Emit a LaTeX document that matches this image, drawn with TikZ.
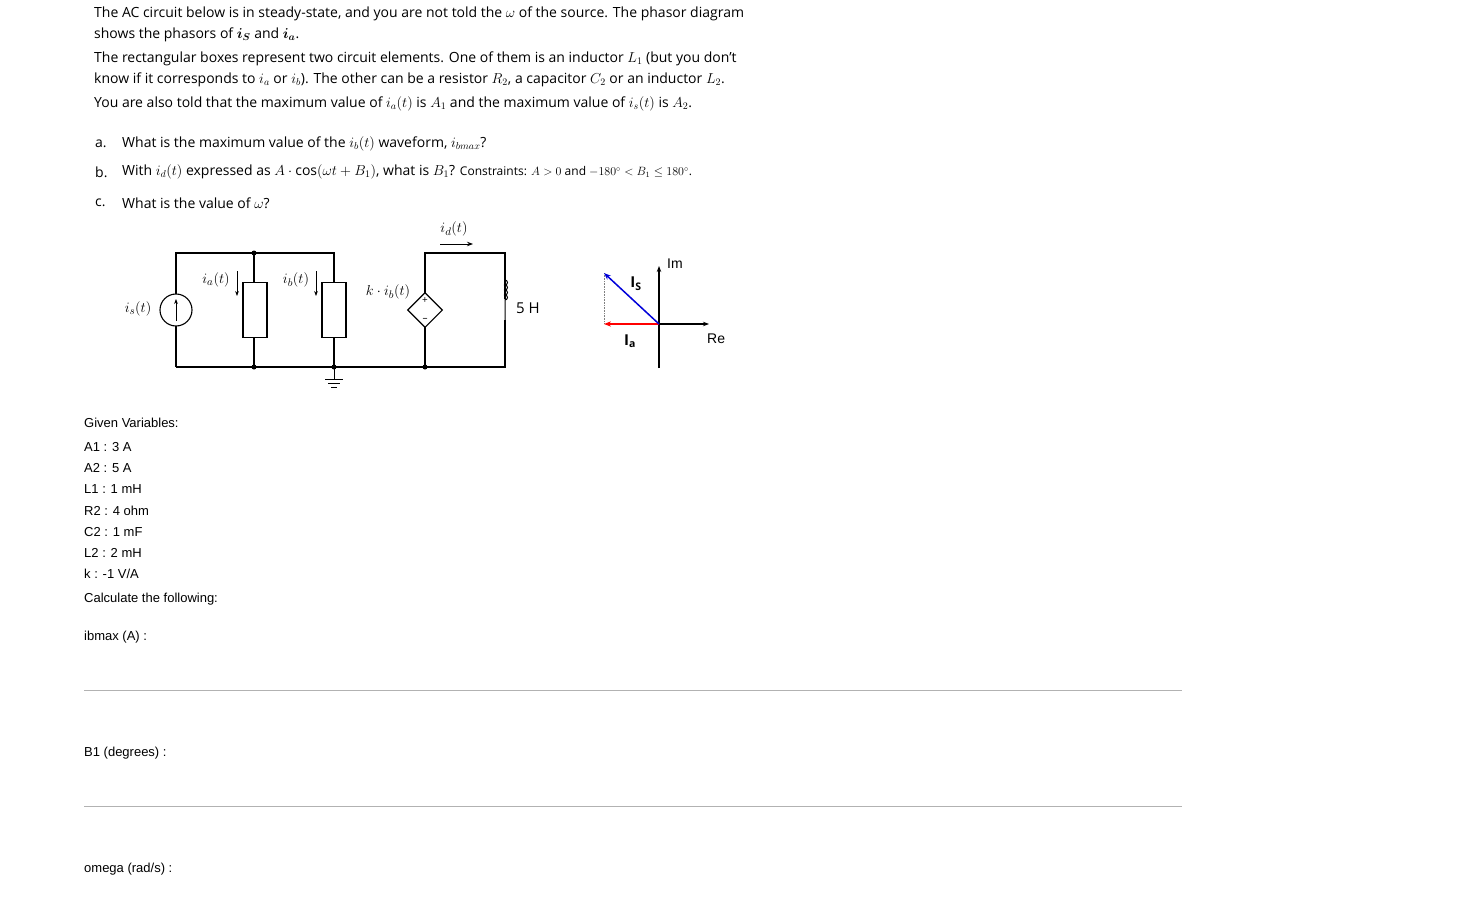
\documentclass[tikz,border=0pt]{standalone}
\usepackage{fontspec}
\usepackage{amsmath,bm}
\setmainfont{Open Sans}
\newfontfamily\arialf{Liberation Sans}
\usetikzlibrary{arrows.meta,shapes.geometric}
\begin{document}
\begin{tikzpicture}[x=1pt,y=-1pt,
  txt/.style={anchor=west,inner sep=0pt,font=\fontsize{14}{16}\selectfont},
  gv/.style={anchor=west,inner sep=0pt,font=\arialf\fontsize{13}{15}\selectfont},
  ckl/.style={inner sep=0pt,font=\fontsize{15}{17}\selectfont},
  wire/.style={line width=1.1pt},
  dot/.style={circle,fill,inner sep=0pt,minimum size=5pt},
  elem/.style={draw,line width=1.1pt,fill=white,minimum width=24pt,minimum height=55pt,inner sep=0pt},
  ax/.style={line width=1.3pt,-{Stealth[length=6pt]}},
  sep/.style={draw=gray!60,line width=0.6pt}]
\useasboundingbox (0,0) rectangle (1470,902);
% text
\node[txt] (t1) at (94,14) {The AC circuit below is in steady-state, and you are not told the $\omega$ of the source. The phasor diagram};
\node[txt] (t2) at (94,35) {shows the phasors of $\bm{i_S}$ and $\bm{i_a}$.};
\node[txt] (t3) at (94,59) {The rectangular boxes represent two circuit elements. One of them is an inductor $L_1$ (but you don't};
\node[txt] (t4) at (94,80) {know if it corresponds to $i_a$ or $i_b$). The other can be a resistor $R_2$, a capacitor $C_2$ or an inductor $L_2$.};
\node[txt] (t5) at (94,104) {You are also told that the maximum value of $i_a(t)$ is $A_1$ and the maximum value of $i_s(t)$ is $A_2$.};
\node[txt] (qa) at (95,144) {a.};
\node[txt] (qat) at (122,144) {What is the maximum value of the $i_b(t)$ waveform, $i_{bmax}$?};
\node[txt] (qb) at (95,172) {b.};
\node[txt] (qbt) at (122,172) {With $i_d(t)$ expressed as $A\cdot\cos(\omega t+B_1)$, what is $B_1$? {\fontsize{12}{14}\selectfont Constraints: $A>0$ and $-180^\circ<B_1\le180^\circ$.}};
\node[txt] (qc) at (95,203) {c.};
\node[txt] (qct) at (122,203) {What is the value of $\omega$?};
% circuit wires
\coordinate (tl) at (176,253); \coordinate (bl) at (176,367);
\coordinate (ta) at (254,253); \coordinate (ba) at (254,367);
\coordinate (tb) at (334,253); \coordinate (bb) at (334,367);
\coordinate (td) at (425,253); \coordinate (bd) at (425,367);
\coordinate (tr) at (505,253); \coordinate (br) at (505,367);
\draw[wire] (bl) -- (tl) -- (tb) -- (bb);
\draw[wire] (ta) -- (ba);
\draw[wire] (bl) -- (br) -- (tr) -- (td) -- (bd);
\node[draw,circle,line width=1.1pt,fill=white,minimum size=32pt,inner sep=0pt] (src) at (176,310) {};
\draw[line width=1pt,-{Stealth[length=5pt]}] (176,321) -- (176,299);
\node[elem] (ea) at (255,310) {};
\node[elem] (eb) at (334,310) {};
\node[draw,diamond,line width=1.1pt,fill=white,minimum size=35pt,inner sep=0pt] (dep) at (425,310) {};
\node[font=\fontsize{10}{10}\selectfont,inner sep=0pt] (pl) at (425,301) {+};
\node[font=\fontsize{10}{10}\selectfont,inner sep=0pt] (mi) at (425,320) {--};
\fill[white] (500,299) rectangle (510,320);
\draw[line width=1pt] (505,299) -- (505,300) arc (90:-90:2.5) arc (90:-90:2.5) arc (90:-90:2.5) arc (90:-90:2.5) -- (505,320);
\node[dot] (d1) at (ta) {}; \node[dot] (d2) at (ba) {};
\node[dot] (d3) at (bb) {}; \node[dot] (d4) at (bd) {};
% ground
\draw[line width=1pt] (bb) -- (334,379);
\draw[line width=1pt] (325,379) -- (343,379) (328,383) -- (340,383) (331,387) -- (337,387);
% labels
\node[ckl] (lis) at (138,309) {$i_s(t)$};
\node[ckl] (lia) at (216,280) {$i_a(t)$};
\draw[line width=1pt,-{Stealth[length=5pt]}] (237,271) -- (237,296);
\node[ckl] (lib) at (296,280) {$i_b(t)$};
\draw[line width=1pt,-{Stealth[length=5pt]}] (316,271) -- (316,296);
\node[ckl] (lk) at (388,292) {$k\cdot i_b(t)$};
\node[ckl] (lid) at (454,229) {$i_d(t)$};
\draw[line width=1pt,-{Stealth[length=6pt]}] (440,244) -- (473,244);
\node[ckl,anchor=west] (l5) at (516,308) {5 H};
% phasor
\coordinate (O) at (659,324);
\draw[ax] (659,368) -- (659,266);
\draw[ax] (O) -- (709,324);
\draw[gray,densely dotted,line width=0.6pt] (604,273) -- (604,324);
\draw[red,line width=1.5pt,-{Stealth[length=7pt]}] (O) -- (604,324);
\draw[blue!85!black,line width=1.5pt,-{Stealth[length=7pt]}] (O) -- (604,273);
\node[ckl] (lIs) at (636,284) {$\mathbf{I}_\mathbf{S}$};
\node[ckl] (lIa) at (630,341) {$\mathbf{I}_\mathbf{a}$};
\node[gv,font=\arialf\fontsize{14}{16}\selectfont] (lim) at (667,264) {Im};
\node[gv,font=\arialf\fontsize{14}{16}\selectfont] (lre) at (707,339) {Re};
% given variables
\node[gv] (g0) at (84,423) {Given Variables:};
\node[gv] (g1) at (84,447) {A1 : 3 A};
\node[gv] (g2) at (84,468) {A2 : 5 A};
\node[gv] (g3) at (84,489) {L1 : 1 mH};
\node[gv] (g4) at (84,511) {R2 : 4 ohm};
\node[gv] (g5) at (84,532) {C2 : 1 mF};
\node[gv] (g6) at (84,553) {L2 : 2 mH};
\node[gv] (g7) at (84,574) {k : -1 V/A};
\node[gv] (g8) at (84,599) {Calculate the following:};
\node[gv] (g9) at (84,637) {ibmax (A) :};
\draw[sep] (84,690) -- (1182,690);
\node[gv] (g10) at (84,753) {B1 (degrees) :};
\draw[sep] (84,806) -- (1182,806);
\node[gv] (g11) at (84,869) {omega (rad/s) :};
\end{tikzpicture}
\end{document}
